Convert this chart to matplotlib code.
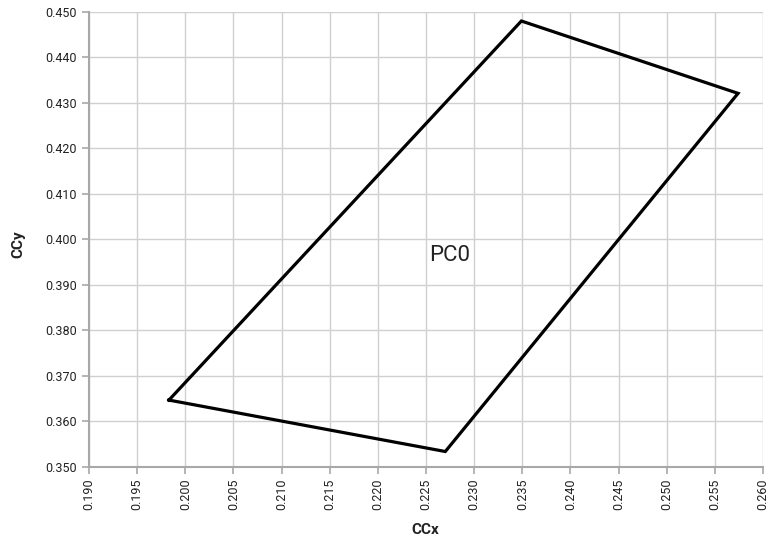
import matplotlib
matplotlib.use('Agg')
import matplotlib.pyplot as plt
import numpy as np

# polygon vertices (closed)
ccx = [0.1983, 0.2349, 0.2574, 0.2270, 0.1983]
ccy = [0.3647, 0.4480, 0.4321, 0.3534, 0.3647]
label = "PC0"
label_pos = (0.2275, 0.3964)

x_ticks = np.round(np.arange(0.190, 0.2601, 0.005), 3)
y_ticks = np.round(np.arange(0.350, 0.4501, 0.010), 3)

plt.rcParams['font.family'] = ['Roboto', 'DejaVu Sans']

fig = plt.figure(figsize=(7.7, 5.41), dpi=100)
ax = fig.add_axes([0.1156, 0.1368, 0.991 - 0.1156, 0.978 - 0.1368])

ax.plot(ccx, ccy, color='black', linewidth=2.3, solid_joinstyle='miter', zorder=3)
ax.text(label_pos[0], label_pos[1], label, fontsize=16, color='#222222',
        ha='center', va='center', zorder=4)

ax.set_xlim(0.190, 0.260)
ax.set_ylim(0.350, 0.450)
ax.set_xticks(x_ticks)
ax.set_yticks(y_ticks)
ax.set_xticklabels([f"{v:.3f}" for v in x_ticks], rotation=90, fontsize=9, color='#222222')
ax.set_yticklabels([f"{v:.3f}" for v in y_ticks], fontsize=9, color='#222222')

ax.grid(True, color='#d0d0d0', linewidth=1.0, zorder=0)
ax.set_axisbelow(True)
for s in ['top', 'right']:
    ax.spines[s].set_visible(False)
for s in ['left', 'bottom']:
    ax.spines[s].set_color('#a8a8a8')
    ax.spines[s].set_linewidth(1.5)
ax.tick_params(axis='both', colors='#a8a8a8', labelcolor='#222222', length=5, width=1.2)

ax.set_xlabel("CCx", fontsize=11, fontweight='bold', color='#222222')
ax.xaxis.set_label_coords((425 - 89) / 674, -0.122)
ax.set_ylabel("CCy", fontsize=11, fontweight='bold', color='#222222')
ax.yaxis.set_label_coords(-0.095, 0.49)

fig.savefig("out.png", dpi=100, facecolor='white')
